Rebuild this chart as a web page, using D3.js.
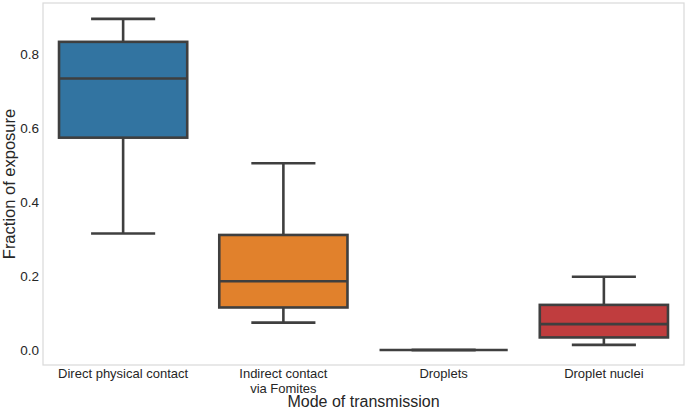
<!DOCTYPE html>
<html><head><meta charset="utf-8">
<script src="https://cdn.jsdelivr.net/npm/d3@7"></script>
<style>body{margin:0;background:#fff}svg{display:block}text{font-family:"Liberation Sans",Arial,sans-serif;fill:#262626}</style>
</head><body><svg id="c" width="685" height="413"></svg>
<script>
const categories = ["Direct physical contact", "Indirect contact\nvia Fomites", "Droplets", "Droplet nuclei"];
const whiskerLow = [0.315, 0.074, 0.0, 0.014];
const q1 = [0.574, 0.115, 0.0, 0.034];
const median = [0.734, 0.186, 0.0, 0.070];
const q3 = [0.833, 0.311, 0.0, 0.122];
const whiskerHigh = [0.895, 0.505, 0.0, 0.198];
const colors = ["#3274a1", "#e1812c", "#3a923a", "#c03d3e"];
const yTicks = [0.0, 0.2, 0.4, 0.6, 0.8];

const svg = d3.select("#c");
const m = {l: 43, r: 1, t: 3, b: 48};
const W = 685, H = 413;
const x = d3.scaleBand().domain(categories).range([m.l, W - m.r]).paddingInner(0).paddingOuter(0);
const y = d3.scaleLinear().domain([-0.0405, 0.938]).range([H - m.b, m.t]);

svg.append("rect").attr("x", m.l).attr("y", m.t).attr("width", W - m.r - m.l).attr("height", H - m.b - m.t)
  .attr("fill", "#fff").attr("stroke", "#d9d9d9").attr("stroke-width", 1.2);

const yAxis = svg.append("g").attr("transform", `translate(${m.l},0)`)
  .call(d3.axisLeft(y).tickValues(yTicks).tickFormat(d3.format(".1f")).tickSize(0).tickPadding(4));
yAxis.select(".domain").remove();
yAxis.selectAll("text").attr("font-size", 13.5).style("fill", "#262626").attr("font-family", '"Liberation Sans",Arial,sans-serif');

const xAxis = svg.append("g").attr("transform", `translate(0,${H - m.b})`)
  .call(d3.axisBottom(x).tickSize(0).tickFormat(""));
xAxis.select(".domain").remove();
categories.forEach(c => {
  const lines = c.split("\n");
  const t = svg.append("text").attr("x", x(c) + x.bandwidth() / 2).attr("y", 378)
    .attr("text-anchor", "middle").attr("font-size", 13);
  lines.forEach((ln, i) => t.append("tspan").attr("x", x(c) + x.bandwidth() / 2).attr("dy", i === 0 ? 0 : 15).text(ln));
});

svg.append("text").attr("x", (m.l + W - m.r) / 2).attr("y", 407).attr("text-anchor", "middle")
  .attr("font-size", 16).text("Mode of transmission");
svg.append("text").attr("transform", `translate(15,${(m.t + H - m.b) / 2}) rotate(-90)`).attr("text-anchor", "middle")
  .attr("font-size", 16.5).text("Fraction of exposure");

const bw = x.bandwidth() * 0.8;
const stroke = "#3f3f3f", sw = 2.6;
categories.forEach((c, i) => {
  const cx = x(c) + x.bandwidth() / 2;
  const g = svg.append("g");
  g.append("line").attr("x1", cx).attr("x2", cx).attr("y1", y(whiskerLow[i])).attr("y2", y(q1[i])).attr("stroke", stroke).attr("stroke-width", sw);
  g.append("line").attr("x1", cx).attr("x2", cx).attr("y1", y(q3[i])).attr("y2", y(whiskerHigh[i])).attr("stroke", stroke).attr("stroke-width", sw);
  g.append("line").attr("x1", cx - bw / 4).attr("x2", cx + bw / 4).attr("y1", y(whiskerLow[i])).attr("y2", y(whiskerLow[i])).attr("stroke", stroke).attr("stroke-width", sw);
  g.append("line").attr("x1", cx - bw / 4).attr("x2", cx + bw / 4).attr("y1", y(whiskerHigh[i])).attr("y2", y(whiskerHigh[i])).attr("stroke", stroke).attr("stroke-width", sw);
  g.append("rect").attr("x", cx - bw / 2).attr("width", bw).attr("y", y(q3[i])).attr("height", Math.max(0, y(q1[i]) - y(q3[i])))
    .attr("fill", colors[i]).attr("stroke", stroke).attr("stroke-width", sw);
  g.append("line").attr("x1", cx - bw / 2).attr("x2", cx + bw / 2).attr("y1", y(median[i])).attr("y2", y(median[i])).attr("stroke", stroke).attr("stroke-width", sw);
});
</script></body></html>
